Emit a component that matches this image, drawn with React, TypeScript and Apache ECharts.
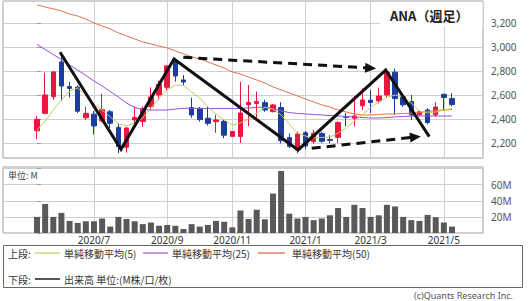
import React, { useEffect, useRef } from 'react';
import * as echarts from 'echarts';

// Weekly candles (week index 0 = week of 2020-05-18)
const openP = [2302, 2447, 2586, 2875, 2670, 2665, 2410, 2440, 2385, 2460, 2330, 2165, 2392, 2380, 2503, 2600, 2664, 2878, 2725, 2495, 2489, 2406, 2378, 2380, 2255, 2255, 2518, 2530, 2536, 2461, 2495, 2245, 2142, 2285, 2211, 2280, 2230, 2247, 2420, 2406, 2510, 2556, 2550, 2600, 2790, 2585, 2545, 2435, 2475, 2435, 2605, 2570];
const closeP = [2397, 2600, 2792, 2675, 2655, 2465, 2447, 2342, 2478, 2364, 2170, 2325, 2414, 2485, 2583, 2690, 2842, 2758, 2708, 2433, 2395, 2364, 2392, 2265, 2295, 2450, 2538, 2545, 2475, 2517, 2220, 2172, 2275, 2175, 2281, 2215, 2222, 2370, 2415, 2425, 2558, 2538, 2592, 2790, 2570, 2518, 2435, 2460, 2370, 2500, 2580, 2520];
const lowP = [2231, 2440, 2560, 2550, 2580, 2450, 2392, 2270, 2375, 2325, 2115, 2120, 2330, 2335, 2475, 2560, 2640, 2711, 2683, 2410, 2378, 2345, 2285, 2240, 2250, 2200, 2340, 2410, 2460, 2455, 2195, 2156, 2114, 2148, 2195, 2200, 2198, 2200, 2340, 2340, 2475, 2450, 2530, 2580, 2435, 2500, 2392, 2425, 2355, 2420, 2470, 2505];
const highP = [2425, 2786, 2800, 2920, 2710, 2680, 2500, 2467, 2610, 2475, 2365, 2330, 2503, 2505, 2664, 2720, 2850, 2906, 2767, 2578, 2500, 2508, 2435, 2395, 2300, 2710, 2683, 2628, 2560, 2525, 2540, 2280, 2295, 2300, 2310, 2295, 2265, 2380, 2450, 2590, 2655, 2640, 2660, 2810, 2820, 2610, 2600, 2470, 2490, 2540, 2610, 2615];
// Volume, millions
const volume = [20, 36, 20, 25, 15, 12.5, 14.6, 14.6, 18, 8, 20, 17.5, 14.6, 11, 13, 9, 10, 9, 5, 11, 8, 10, 15, 14, 7, 28, 17.5, 29, 17, 49, 77, 24, 18, 20, 16, 18, 22, 31, 20, 35, 31, 20, 22, 35, 33, 20, 16, 15, 22.5, 19.6, 13, 8];
// Moving averages
const ma5 = [2308, 2383, 2475, 2558, 2633, 2658, 2600, 2525, 2475, 2417, 2358, 2342, 2367, 2408, 2492, 2575, 2642, 2683, 2679, 2625, 2575, 2500, 2442, 2392, 2350, 2367, 2400, 2450, 2496, 2483, 2433, 2358, 2283, 2258, 2242, 2246, 2250, 2283, 2325, 2383, 2433, 2496, 2542, 2579, 2600, 2583, 2533, 2467, 2450, 2458, 2475, 2487];
const ma25 = [3021, 2979, 2937, 2896, 2850, 2808, 2762, 2717, 2675, 2629, 2583, 2533, 2496, 2479, 2475, 2475, 2475, 2483, 2489, 2489, 2487, 2487, 2487, 2487, 2487, 2489, 2492, 2496, 2500, 2487, 2467, 2454, 2446, 2442, 2437, 2433, 2429, 2425, 2421, 2417, 2412, 2408, 2408, 2412, 2417, 2421, 2425, 2425, 2425, 2425, 2425, 2425];
const ma50 = [3350, 3333, 3317, 3300, 3275, 3258, 3233, 3200, 3175, 3150, 3117, 3092, 3067, 3042, 3025, 3008, 2992, 2967, 2942, 2917, 2900, 2875, 2850, 2825, 2792, 2775, 2750, 2725, 2700, 2667, 2642, 2617, 2592, 2567, 2542, 2517, 2500, 2475, 2458, 2442, 2433, 2433, 2437, 2442, 2442, 2446, 2448, 2454, 2462, 2471, 2475, 2479];

const monthTickIdx = [7, 16, 24, 33, 41, 50];
const monthTickLabels = ['2020/7', '2020/9', '2020/11', '2021/1', '2021/3', '2021/5'];

// Hand-drawn annotation lines, in (week index, price)
const trendSolid = [[2.83, 2956], [10.32, 2147], [16.84, 2900], [32.08, 2142], [42.85, 2808], [48.21, 2253]];
const arrowUpper = [[17.98, 2914], [41.0, 2824]];
const arrowLower = [[33.76, 2156], [46.5, 2250]];

const X_MIN = -4.18;
const X_MAX = 54.81;

const RED = '#E8173F';
const BLUE = '#1D3D9C';
const C_MA5 = '#C2CC5C';
const C_MA25 = '#9B4FD8';
const C_MA50 = '#E8704E';
const GRIDC = '#CFCFCF';
const BORDERC = '#A0A0A0';
const JP = '"Noto Sans CJK JP", "Noto Sans", sans-serif';
const NUMF = '"Noto Sans", "DejaVu Sans", sans-serif';

function buildOption() {
  const vGrid = {
    silent: true,
    symbol: 'none',
    z: 1,
    label: { show: false },
    lineStyle: { color: GRIDC, type: 'solid', width: 1 },
    emphasis: { disabled: true },
    data: monthTickIdx.map((i) => ({ xAxis: i })),
  };
  const t = (x: number, y: number, text: string, size = 10, fill = '#333', font = JP, align = 'left') => ({
    type: 'text',
    x,
    y,
    z: 20,
    style: { text, fill, font: `${size}px ${font}`, lineHeight: size + 1, textAlign: align, textVerticalAlign: 'middle' },
  });
  const l = (x1: number, x2: number, y: number, color: string, w = 1) => ({
    type: 'line',
    z: 20,
    shape: { x1, y1: y, x2, y2: y },
    style: { stroke: color, lineWidth: w },
  });
  const graphics: any[] = [
    { type: 'rect', z: 19, shape: { x: 3.5, y: 245.5, width: 519, height: 42 }, style: { fill: '#fff', stroke: '#666', lineWidth: 1 } },
    t(8, 253, '上段:'),
    l(35, 60, 253, C_MA5, 1.2),
    t(64, 253, '単純移動平均(5)'),
    l(143, 168, 253, C_MA25, 1.2),
    t(172, 253, '単純移動平均(25)'),
    l(258, 285, 253, '#E05A4A', 1.2),
    t(292, 253, '単純移動平均(50)'),
    t(8, 279, '下段:'),
    l(35, 60, 279, '#555', 2),
    t(64, 279, '出来高 単位:(M株/口/枚)'),
    t(513, 295, '(c)Quants Research Inc.', 9, '#555', NUMF, 'right'),
    t(8, 175, '単位: M', 9, '#444'),
    { type: 'rect', z: 15, shape: { x: 380, y: 2, width: 102.5, height: 25 }, style: { fill: '#fff' } },
    { type: 'text', x: 390, y: 15, z: 16, style: { text: 'ANA（週足）', fill: '#222', font: `bold 13px ${JP}`, textVerticalAlign: 'middle' } },
  ];

  return {
    animation: false,
    backgroundColor: '#fff',
    grid: [
      { left: 3, top: 1, width: 480, height: 157, show: true, borderColor: BORDERC, borderWidth: 1, backgroundColor: 'transparent' },
      { left: 3, top: 167, width: 480, height: 66, show: true, borderColor: BORDERC, borderWidth: 1, backgroundColor: 'transparent' },
    ],
    xAxis: [
      {
        type: 'value', gridIndex: 0, min: X_MIN, max: X_MAX,
        axisLine: { show: false }, axisTick: { show: false }, axisLabel: { show: false }, splitLine: { show: false },
      },
      {
        type: 'value', gridIndex: 1, min: X_MIN, max: X_MAX,
        axisLine: { show: false }, axisTick: { show: false }, splitLine: { show: false },
        axisLabel: {
          customValues: monthTickIdx,
          formatter: (v: number) => {
            const k = monthTickIdx.indexOf(Math.round(v));
            return k >= 0 ? monthTickLabels[k] : '';
          },
          margin: 1, fontSize: 10, lineHeight: 11, color: '#333', fontFamily: NUMF,
        },
      },
    ],
    yAxis: [
      {
        type: 'value', gridIndex: 0, position: 'right', min: 2075, max: 3383,
        minInterval: 200, maxInterval: 200,
        axisLine: { show: false },
        axisTick: { show: true, length: 4, lineStyle: { color: '#999' } },
        axisLabel: {
          margin: 8, fontSize: 10, color: '#555', fontFamily: NUMF,
          showMinLabel: false, showMaxLabel: false,
          formatter: (v: number) => (v % 200 === 0 ? v.toLocaleString('en-US') : ''),
        },
        splitLine: { show: true, lineStyle: { color: GRIDC, width: 1 } },
      },
      {
        type: 'value', gridIndex: 1, position: 'right', min: 0, max: 82, interval: 20,
        axisLine: { show: false },
        axisTick: { show: true, length: 4, lineStyle: { color: '#999' } },
        axisLabel: {
          margin: 8, fontSize: 10, color: '#555', fontFamily: NUMF, showMaxLabel: false,
          formatter: (v: number) => (v === 20 || v === 40 || v === 60 ? `${v}M` : ''),
        },
        splitLine: { show: true, lineStyle: { color: GRIDC, width: 1 } },
      },
    ],
    series: [
      {
        type: 'candlestick', name: 'ANA', xAxisIndex: 0, yAxisIndex: 0, z: 3,
        barWidth: 5,
        data: openP.map((o, i) => [i, o, closeP[i], lowP[i], highP[i]]),
        itemStyle: { color: RED, color0: BLUE, borderColor: RED, borderColor0: BLUE, borderWidth: 1 },
      },
      {
        type: 'line', name: 'MA50', xAxisIndex: 0, yAxisIndex: 0, z: 4, symbol: 'none', silent: true,
        data: ma50.map((v, i) => [i, v]), lineStyle: { color: C_MA50, width: 1 },
        markLine: vGrid,
      },
      {
        type: 'line', name: 'MA25', xAxisIndex: 0, yAxisIndex: 0, z: 4, symbol: 'none', silent: true,
        data: ma25.map((v, i) => [i, v]), lineStyle: { color: C_MA25, width: 1 },
      },
      {
        type: 'line', name: 'MA5', xAxisIndex: 0, yAxisIndex: 0, z: 4, symbol: 'none', silent: true,
        data: ma5.map((v, i) => [i, v]), lineStyle: { color: C_MA5, width: 1 },
      },
      {
        type: 'line', name: 'trend', xAxisIndex: 0, yAxisIndex: 0, z: 6, symbol: 'none', silent: true,
        data: trendSolid, lineStyle: { color: '#111', width: 3, join: 'miter' },
        markLine: {
          silent: true, z: 7,
          symbol: ['none', 'triangle'], symbolSize: [10, 11],
          label: { show: false },
          lineStyle: { color: '#111', width: 3, type: [9, 6] },
          itemStyle: { color: '#111' },
          data: [
            [{ coord: arrowUpper[0] }, { coord: arrowUpper[1] }],
            [{ coord: arrowLower[0] }, { coord: arrowLower[1] }],
          ],
        },
      },
      {
        type: 'bar', name: 'volume', xAxisIndex: 1, yAxisIndex: 1, z: 3, barWidth: 6, silent: true,
        data: volume.map((v, i) => [i, v]), itemStyle: { color: '#595959' },
        markLine: vGrid,
      },
    ],
    graphic: graphics,
  };
}

export default function App() {
  const ref = useRef<HTMLDivElement>(null);
  useEffect(() => {
    const chart = echarts.init(ref.current!, null, { renderer: 'svg' });
    chart.setOption(buildOption() as any);
    return () => chart.dispose();
  }, []);
  return (
    <div
      ref={ref}
      style={{ position: 'fixed', left: 0, top: 0, width: 530, height: 301, background: '#fff' }}
    />
  );
}
